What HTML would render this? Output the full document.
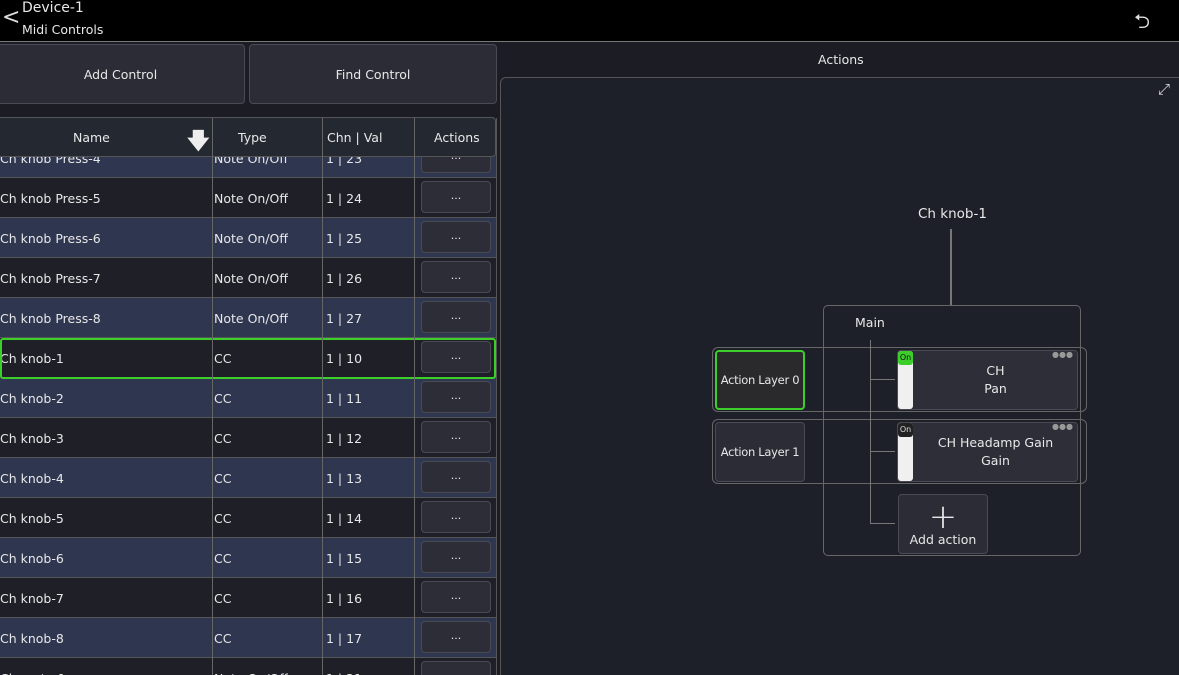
<!DOCTYPE html>
<html style="width:1179px;height:675px;overflow:hidden"><head><meta charset="utf-8"><style>
*{box-sizing:border-box;margin:0;padding:0}
body{width:1179px;height:675px;overflow:hidden;background:#1c1d24;font-family:"DejaVu Sans","Liberation Sans",sans-serif;color:#e8e8e8;position:relative;font-size:12.5px}
.a{position:absolute}
.hdr{left:0;top:0;width:1179px;height:42px;background:#000;border-bottom:1px solid #777}
.btn{background:#2c2c36;border:1px solid #4a4a55;border-radius:4px;display:flex;align-items:center;justify-content:center}
.row{left:0;width:496px;height:40px;border-bottom:1px solid #555}
.cell{position:absolute;top:1px;height:40px;line-height:39px;white-space:nowrap;overflow:hidden}
.ab{position:absolute;left:421px;top:3px;width:70px;height:32px;background:#2d2d37;border:1px solid #4a4a55;border-radius:4px;text-align:center;line-height:28px;font-size:11px}
.vl{position:absolute;top:118px;width:1px;height:557px;background:#666}
.ln{position:absolute;background:#777}
</style></head><body>
<div class="a hdr"></div>
<div class="a" style="left:2px;top:5px;font-size:22px;color:#ddd">&lt;</div>
<div class="a" style="left:22px;top:0px;font-size:14px">Device-1</div>
<div class="a" style="left:22px;top:22px;font-size:12.5px">Midi Controls</div>
<div class="a" style="left:1134px;top:7px;font-size:20px;color:#ddd">⮌</div>

<div class="a btn" style="left:-4px;top:44px;width:249px;height:60px">Add Control</div>
<div class="a btn" style="left:249px;top:44px;width:248px;height:60px">Find Control</div>

<div class="a" style="left:0;top:118px;width:497px;height:557px;border-right:1px solid #555"></div>
<div class="a row" style="top:138px;background:#2f3650"><div class="cell" style="left:0">Ch knob Press-4</div><div class="cell" style="left:214px">Note On/Off</div><div class="cell" style="left:326px">1 | 23</div><div class="ab">...</div></div>
<div class="a row" style="top:178px;background:#1e1f27"><div class="cell" style="left:0">Ch knob Press-5</div><div class="cell" style="left:214px">Note On/Off</div><div class="cell" style="left:326px">1 | 24</div><div class="ab">...</div></div>
<div class="a row" style="top:218px;background:#2f3650"><div class="cell" style="left:0">Ch knob Press-6</div><div class="cell" style="left:214px">Note On/Off</div><div class="cell" style="left:326px">1 | 25</div><div class="ab">...</div></div>
<div class="a row" style="top:258px;background:#1e1f27"><div class="cell" style="left:0">Ch knob Press-7</div><div class="cell" style="left:214px">Note On/Off</div><div class="cell" style="left:326px">1 | 26</div><div class="ab">...</div></div>
<div class="a row" style="top:298px;background:#2f3650"><div class="cell" style="left:0">Ch knob Press-8</div><div class="cell" style="left:214px">Note On/Off</div><div class="cell" style="left:326px">1 | 27</div><div class="ab">...</div></div>
<div class="a row" style="top:338px;background:#1e1f27"><div class="cell" style="left:0">Ch knob-1</div><div class="cell" style="left:214px">CC</div><div class="cell" style="left:326px">1 | 10</div><div class="ab">...</div></div>
<div class="a row" style="top:378px;background:#2f3650"><div class="cell" style="left:0">Ch knob-2</div><div class="cell" style="left:214px">CC</div><div class="cell" style="left:326px">1 | 11</div><div class="ab">...</div></div>
<div class="a row" style="top:418px;background:#1e1f27"><div class="cell" style="left:0">Ch knob-3</div><div class="cell" style="left:214px">CC</div><div class="cell" style="left:326px">1 | 12</div><div class="ab">...</div></div>
<div class="a row" style="top:458px;background:#2f3650"><div class="cell" style="left:0">Ch knob-4</div><div class="cell" style="left:214px">CC</div><div class="cell" style="left:326px">1 | 13</div><div class="ab">...</div></div>
<div class="a row" style="top:498px;background:#1e1f27"><div class="cell" style="left:0">Ch knob-5</div><div class="cell" style="left:214px">CC</div><div class="cell" style="left:326px">1 | 14</div><div class="ab">...</div></div>
<div class="a row" style="top:538px;background:#2f3650"><div class="cell" style="left:0">Ch knob-6</div><div class="cell" style="left:214px">CC</div><div class="cell" style="left:326px">1 | 15</div><div class="ab">...</div></div>
<div class="a row" style="top:578px;background:#1e1f27"><div class="cell" style="left:0">Ch knob-7</div><div class="cell" style="left:214px">CC</div><div class="cell" style="left:326px">1 | 16</div><div class="ab">...</div></div>
<div class="a row" style="top:618px;background:#2f3650"><div class="cell" style="left:0">Ch knob-8</div><div class="cell" style="left:214px">CC</div><div class="cell" style="left:326px">1 | 17</div><div class="ab">...</div></div>
<div class="a row" style="top:658px;background:#1e1f27"><div class="cell" style="left:0">Ch mute-1</div><div class="cell" style="left:214px">Note On/Off</div><div class="cell" style="left:326px">1 | 21</div><div class="ab">...</div></div>
<div class="a" style="left:0;top:338px;width:496px;height:41px;border:2px solid #3ccf2a;border-radius:3px"></div>
<div class="vl" style="left:212px"></div><div class="vl" style="left:322px"></div><div class="vl" style="left:414px"></div>
<div class="a" style="left:-4px;top:117px;width:500px;height:40px;background:#242931;border:1px solid #555;border-radius:4px"></div>
<div class="a" style="left:212px;top:118px;width:1px;height:39px;background:#666"></div>
<div class="a" style="left:322px;top:118px;width:1px;height:39px;background:#666"></div>
<div class="a" style="left:414px;top:118px;width:1px;height:39px;background:#666"></div>
<div class="a" style="left:73px;top:130px">Name</div>
<div class="a" style="left:187px;top:124px;font-size:22px;color:#eee;font-weight:bold">🡇</div>
<div class="a" style="left:238px;top:130px">Type</div>
<div class="a" style="left:327px;top:130px">Chn | Val</div>
<div class="a" style="left:434px;top:130px">Actions</div>

<div class="a" style="left:818px;top:52px">Actions</div>
<div class="a" style="left:500px;top:77px;width:690px;height:620px;background:#1e2029;border:1px solid #555;border-radius:6px"></div>
<div class="a" style="left:1158px;top:80px;font-size:15px;color:#ddd">⤢</div>
<div class="a" style="left:918px;top:206px;font-size:13.5px">Ch knob-1</div>
<div class="ln" style="left:950px;top:229px;width:2px;height:76px"></div>
<div class="a" style="left:823px;top:305px;width:258px;height:251px;border:1px solid #666;border-radius:5px"></div>
<div class="a" style="left:855px;top:315px">Main</div>
<div class="a" style="left:712px;top:347px;width:375px;height:65px;border:1px solid #666;border-radius:6px"></div>
<div class="a" style="left:712px;top:419px;width:375px;height:65px;border:1px solid #666;border-radius:6px"></div>
<div class="ln" style="left:870px;top:340px;width:1px;height:184px"></div>
<div class="ln" style="left:870px;top:379px;width:25px;height:1px"></div>
<div class="ln" style="left:870px;top:451px;width:25px;height:1px"></div>
<div class="ln" style="left:870px;top:523px;width:25px;height:1px"></div>
<div class="a" style="left:715px;top:350px;width:90px;height:60px;background:#2a2a2c;border:2px solid #3ccf2a;border-radius:4px;display:flex;align-items:center;justify-content:center;font-size:11.5px;white-space:nowrap;letter-spacing:-0.3px">Action Layer 0</div>
<div class="a btn" style="left:715px;top:422px;width:90px;height:60px;font-size:11.5px;white-space:nowrap;letter-spacing:-0.3px">Action Layer 1</div>
<div class="a" style="left:897px;top:350px;width:181px;height:60px;background:#2e2e38;border:1px solid #4a4a55;border-radius:4px"></div>
<div class="a" style="left:898px;top:351px;width:15px;height:58px;background:#f0f0f0;border-radius:3px"></div>
<div class="a" style="left:898px;top:351px;width:15px;height:14px;background:#3ccf2a;border-radius:3px;font-size:8px;color:#111;text-align:center;line-height:13px">On</div>
<div class="a" style="left:913px;top:362px;width:165px;text-align:center;line-height:18px">CH<br>Pan</div>
<div class="a" style="left:1052px;top:350px;color:#999;font-size:8px">●●●</div>
<div class="a" style="left:897px;top:422px;width:181px;height:60px;background:#2e2e38;border:1px solid #4a4a55;border-radius:4px"></div>
<div class="a" style="left:898px;top:423px;width:15px;height:58px;background:#f0f0f0;border-radius:3px"></div>
<div class="a" style="left:898px;top:423px;width:15px;height:14px;background:#222;border-radius:3px;font-size:8px;color:#ddd;text-align:center;line-height:13px">On</div>
<div class="a" style="left:913px;top:434px;width:165px;text-align:center;line-height:18px">CH Headamp Gain<br>Gain</div>
<div class="a" style="left:1052px;top:422px;color:#999;font-size:8px">●●●</div>
<div class="a btn" style="left:898px;top:494px;width:90px;height:60px;flex-direction:column">
<div style="font-size:34px;line-height:30px;font-weight:200">+</div><div style="font-size:12.5px">Add action</div></div>
</body></html>
